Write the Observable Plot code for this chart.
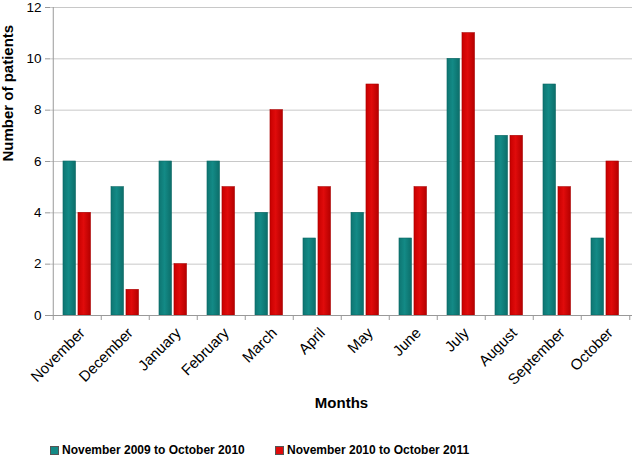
<!DOCTYPE html>
<html>
<head>
<meta charset="utf-8">
<script src="https://cdn.jsdelivr.net/npm/d3@7"></script>
<script src="https://cdn.jsdelivr.net/npm/@observablehq/plot@0.6"></script>
<style>
  body { margin: 0; background: #fff; font-family: "Liberation Sans", Arial, sans-serif; }
  #wrap { position: relative; width: 638px; height: 457px; }
  .legend { position: absolute; top: 443px; font-size: 12px; font-weight: bold; color: #000; display: flex; align-items: center; white-space: nowrap; }
  .sw { width: 7px; height: 7px; margin-right: 3px; display: inline-block; }
</style>
</head>
<body>
<div id="wrap"></div>
<script>
const months = ["November","December","January","February","March","April","May","June","July","August","September","October"];
const series1Name = "November 2009 to October 2010";
const series2Name = "November 2010 to October 2011";
const series1 = [6,5,6,6,4,3,4,3,10,7,9,3];
const series2 = [4,1,2,5,8,5,9,5,11,7,5,6];
const yTicks = [0,2,4,6,8,10,12];
const tealColor = "#138a86";
const redColor = "#e00b0b";

const data1 = months.map((m, i) => ({month: m, value: series1[i]}));
const data2 = months.map((m, i) => ({month: m, value: series2[i]}));

const W = 638, H = 425, mL = 50, mR = 6;
const step = (W - mL - mR) / months.length;

const chart = Plot.plot({
  width: W,
  height: H,
  marginLeft: mL,
  marginRight: mR,
  marginTop: 7,
  marginBottom: 110,
  style: {fontFamily: "'Liberation Sans', Arial, sans-serif", fontSize: "13px", color: "#000", background: "#fff"},
  x: {domain: months, padding: 0, label: null},
  y: {domain: [0, 12], ticks: yTicks, label: null},
  marks: [
    Plot.gridY(yTicks, {stroke: "#c8c8c8", strokeOpacity: 1}),
    Plot.barY(data1, {x: "month", y: "value", fill: "url(#gTeal)", stroke: "#0b6663", strokeWidth: 0.6, insetLeft: step * 0.206, insetRight: step * 0.526}),
    Plot.barY(data2, {x: "month", y: "value", fill: "url(#gRed)", stroke: "#a80000", strokeWidth: 0.6, insetLeft: step * 0.515, insetRight: step * 0.217}),
    Plot.ruleY([0], {stroke: "#999"}),
    Plot.ruleX([0], {x: () => months[0], dx: -step / 2, stroke: "#999", y1: 0, y2: 12}),
    Plot.axisY(yTicks, {tickSize: 5, tickPadding: 4, stroke: "#999", fontSize: 13.5}),
    Plot.axisX(months, {tickSize: 5, dx: -step / 2, tickFormat: () => "", stroke: "#999"}),
    Plot.axisX([months[months.length - 1]], {tickSize: 5, dx: step / 2, tickFormat: () => "", stroke: "#999"}),
    Plot.axisX(months, {tickSize: 0, tickRotate: -45, tickPadding: 15, dx: 5, fontSize: 15, label: null}),
    Plot.text(["Months"], {frameAnchor: "bottom", dy: 92, fontWeight: "bold", fontSize: 15}),
    Plot.text(["Number of patients"], {frameAnchor: "left", rotate: -90, dx: -42, fontWeight: "bold", fontSize: 15})
  ]
});

const ns = "http://www.w3.org/2000/svg";
const defs = document.createElementNS(ns, "defs");
function grad(id, c0, c1, c2) {
  const g = document.createElementNS(ns, "linearGradient");
  g.setAttribute("id", id);
  g.setAttribute("x1", "0"); g.setAttribute("x2", "1"); g.setAttribute("y1", "0"); g.setAttribute("y2", "0");
  [[0, c0], [0.45, c1], [1, c2]].forEach(([o, c]) => {
    const s = document.createElementNS(ns, "stop");
    s.setAttribute("offset", o); s.setAttribute("stop-color", c);
    g.appendChild(s);
  });
  defs.appendChild(g);
}
grad("gTeal", "#0e7672", tealColor, "#0c6e6a");
grad("gRed", "#c80000", redColor, "#b50000");
chart.insertBefore(defs, chart.firstChild);

const wrap = document.getElementById("wrap");
wrap.appendChild(chart);

function legendItem(left, color, label) {
  const d = document.createElement("div");
  d.className = "legend";
  d.style.left = left + "px";
  const s = document.createElement("span");
  s.className = "sw";
  s.style.background = color;
  s.style.border = "0.5px solid #555";
  d.appendChild(s);
  d.appendChild(document.createTextNode(label));
  wrap.appendChild(d);
}
legendItem(50, tealColor, series1Name);
legendItem(275, redColor, series2Name);
</script>
</body>
</html>
